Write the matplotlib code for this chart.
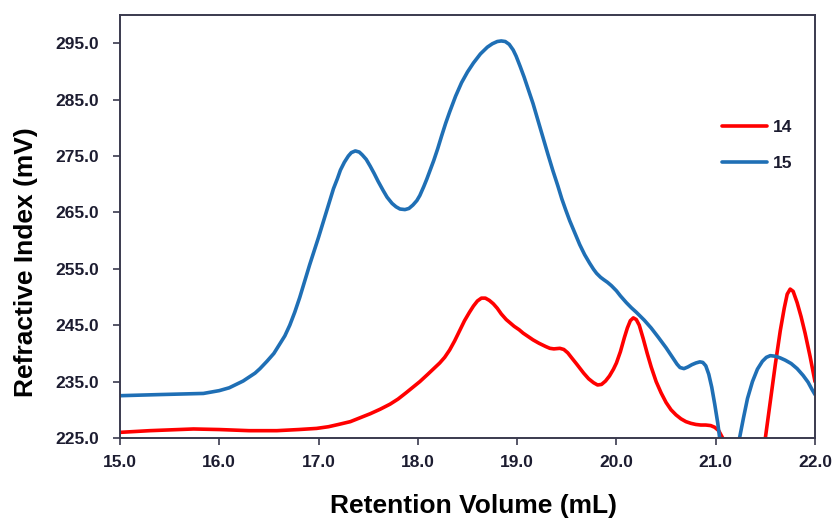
import matplotlib
matplotlib.use("Agg")
import matplotlib.pyplot as plt

# Series "14" (red)
x14 = [15.0, 15.3, 15.74, 16.0, 16.3, 16.58, 16.8, 16.98, 17.1, 17.2, 17.32, 17.42, 17.52, 17.62,
       17.72, 17.8, 17.88, 17.95, 18.02, 18.1, 18.16, 18.22, 18.27, 18.32, 18.37, 18.42, 18.47,
       18.52, 18.56, 18.6, 18.64, 18.68, 18.72, 18.76, 18.8, 18.84, 18.89, 18.93, 18.97, 19.02,
       19.06, 19.11, 19.16, 19.22, 19.29, 19.33, 19.37, 19.43, 19.47, 19.51, 19.55, 19.6, 19.67,
       19.72, 19.77, 19.81, 19.85, 19.89, 19.93, 19.97, 20.0, 20.04, 20.08, 20.11, 20.14, 20.17,
       20.2, 20.23, 20.27, 20.31, 20.35, 20.4, 20.45, 20.5, 20.55, 20.6, 20.65, 20.7, 20.75, 20.8,
       20.85, 20.9, 20.95, 20.99, 21.03, 21.07, 21.2, 21.4, 21.5, 21.55, 21.6, 21.65, 21.69,
       21.72, 21.75, 21.78, 21.82, 21.86, 21.9, 21.95, 22.0]
y14 = [226.0, 226.3, 226.6, 226.5, 226.3, 226.3, 226.5, 226.7, 227.0, 227.4, 227.9, 228.6, 229.3, 230.1,
       231.0, 231.9, 233.0, 234.0, 235.0, 236.3, 237.3, 238.3, 239.3, 240.6, 242.2, 244.0, 245.8,
       247.3, 248.4, 249.3, 249.8, 249.8, 249.4, 248.8, 248.0, 247.0, 246.0, 245.4, 244.8, 244.2,
       243.6, 243.0, 242.4, 241.8, 241.2, 240.9, 240.8, 240.9, 240.7, 240.1, 239.2, 238.1, 236.5,
       235.5, 234.8, 234.4, 234.5, 235.1, 236.0, 237.2, 238.3, 240.3, 242.8, 244.5, 245.8, 246.3,
       246.0, 245.0, 242.6, 240.0, 237.6, 235.0, 233.0, 231.3, 230.0, 229.1, 228.4, 227.9, 227.6,
       227.4, 227.3, 227.3, 227.2, 226.9, 226.3, 225.0, 218.0, 218.0, 225.0, 231.5, 238.0, 244.0,
       248.0, 250.5, 251.4, 251.0, 249.0, 246.5, 243.6, 239.5, 235.0]

# Series "15" (blue)
x15 = [15.0, 15.4, 15.84, 16.0, 16.1, 16.17, 16.24, 16.3, 16.36, 16.41, 16.48, 16.55, 16.6, 16.66,
       16.71, 16.76, 16.81, 16.86, 16.91, 16.96, 17.0, 17.04, 17.08, 17.12, 17.15, 17.19, 17.22,
       17.26, 17.3, 17.33, 17.37, 17.41, 17.44, 17.48, 17.52, 17.56, 17.6, 17.65, 17.69, 17.74,
       17.78, 17.82, 17.87, 17.91, 17.95, 17.99, 18.02, 18.06, 18.09, 18.13, 18.16, 18.2, 18.24,
       18.28, 18.32, 18.38, 18.44, 18.5, 18.56, 18.63, 18.7, 18.75, 18.8, 18.84, 18.88, 18.92,
       18.96, 18.99, 19.03, 19.07, 19.11, 19.16, 19.21, 19.26, 19.31, 19.36, 19.41, 19.45, 19.49,
       19.53, 19.58, 19.63, 19.68, 19.73, 19.77, 19.8, 19.84, 19.87, 19.91, 19.95, 20.0, 20.04,
       20.1, 20.15, 20.2, 20.28, 20.35, 20.42, 20.5, 20.56, 20.61, 20.64, 20.68, 20.72, 20.76,
       20.8, 20.84, 20.87, 20.9, 20.93, 20.96, 20.99, 21.02, 21.04, 21.14, 21.24, 21.28, 21.32,
       21.37, 21.42, 21.47, 21.51, 21.55, 21.6, 21.65, 21.7, 21.76, 21.82, 21.88, 21.93, 21.97, 22.0]
y15 = [232.5, 232.7, 232.9, 233.4, 233.9, 234.5, 235.1, 235.8, 236.5, 237.3, 238.6, 240.0, 241.4, 243.1,
       245.0, 247.3, 249.9, 252.8, 255.7, 258.4, 260.6, 262.9, 265.2, 267.5, 269.2, 271.0, 272.5,
       273.9, 275.0, 275.6, 275.9, 275.7, 275.2, 274.4, 273.2, 271.9, 270.5, 268.9, 267.7, 266.6,
       266.0, 265.6, 265.5, 265.7, 266.3, 267.1, 268.0, 269.6, 270.9, 272.8, 274.2, 276.3, 278.6,
       280.8, 282.8, 285.6, 288.0, 289.9, 291.5, 293.1, 294.3, 294.9, 295.3, 295.4, 295.3, 294.8,
       293.8, 292.7, 290.9, 289.0, 286.9, 284.3, 281.3, 278.3, 275.3, 272.4, 269.7, 267.4, 265.4,
       263.5, 261.4, 259.3, 257.5, 256.0, 254.9, 254.2, 253.5, 253.1, 252.6, 252.0, 251.1, 250.2,
       249.0, 248.1, 247.3, 245.9, 244.5, 242.9, 241.0, 239.4, 238.1, 237.5, 237.3, 237.6, 238.0,
       238.3, 238.5, 238.4, 237.8, 236.3, 234.0, 231.0, 227.7, 225.0, 220.0, 225.0, 228.6, 232.0,
       235.0, 237.2, 238.6, 239.3, 239.6, 239.5, 239.2, 238.8, 238.2, 237.3, 236.1, 234.9, 233.6, 232.7]

series_labels = ["14", "15"]
series_colors = ["#ff0000", "#1f6fb5"]
xticks = [15.0, 16.0, 17.0, 18.0, 19.0, 20.0, 21.0, 22.0]
yticks = [225.0, 235.0, 245.0, 255.0, 265.0, 275.0, 285.0, 295.0]

W, H = 833, 521
fig = plt.figure(figsize=(W / 100, H / 100), dpi=100)
ax = fig.add_axes([120 / W, 1 - 438 / H, 695 / W, 423 / H])

ax.plot(x14, y14, color=series_colors[0], lw=2.6, label=series_labels[0],
        solid_joinstyle="round", solid_capstyle="round")
ax.plot(x15, y15, color=series_colors[1], lw=2.6, label=series_labels[1],
        solid_joinstyle="round", solid_capstyle="round")

ax.set_xlim(15, 22)
ax.set_ylim(225, 300)
ax.set_xticks(xticks)
ax.set_yticks(yticks)
ax.set_xticklabels([f"{v:.1f}" for v in xticks])
ax.set_yticklabels([f"{v:.1f}" for v in yticks])

spine_c = "#3a3a4e"
for s in ax.spines.values():
    s.set_color(spine_c)
    s.set_linewidth(1.4)

tick_c = "#1c1c30"
ax.tick_params(axis="both", direction="out", length=5, width=1.2, color=spine_c,
               labelcolor=tick_c, labelsize=12.5)
for lab in ax.get_xticklabels() + ax.get_yticklabels():
    lab.set_fontweight("bold")
    lab.set_family("Liberation Sans")
ax.tick_params(axis="x", pad=7)
ax.tick_params(axis="y", pad=10)

fig.text(474 / W, 1 - 513 / H, "Retention Volume (mL)", fontsize=19, fontweight="bold",
         family="Liberation Sans", ha="center", va="baseline", color="black")
fig.text(33 / W, 1 - 262 / H, "Refractive Index (mV)", fontsize=19, fontweight="bold",
         family="Liberation Sans", rotation=90, rotation_mode="anchor",
         ha="center", va="baseline", color="black")

leg = ax.legend(loc="upper right", bbox_to_anchor=(0.99, 0.79), frameon=False,
                handlelength=2.6, handletextpad=0.35, labelspacing=1.2,
                prop={"family": "Liberation Sans", "weight": "bold", "size": 12.5})
for line in leg.get_lines():
    line.set_linewidth(2.6)
for t in leg.get_texts():
    t.set_color(tick_c)

fig.savefig("out.png", dpi=100)
